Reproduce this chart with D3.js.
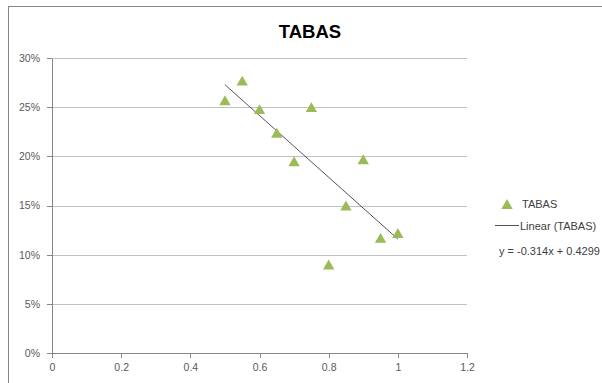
<!DOCTYPE html>
<meta charset="utf-8">
<style>
  body { margin: 0; background: white; }
  text { font-family: "Liberation Sans", Arial, sans-serif; }
  .tick text { fill: #595959; font-size: 10.5px; }
  .axis path, .axis line { stroke: #868686; shape-rendering: crispEdges; }
  .grid line { stroke: #c0c0c0; shape-rendering: crispEdges; }
  .grid path { stroke-width: 0; }
  .legend text { fill: #404040; font-size: 11px; }
</style>
<body>
<script src="https://d3js.org/d3.v7.min.js"></script>
<script>
// data
var xValues = [0.5, 0.55, 0.6, 0.65, 0.7, 0.75, 0.8, 0.85, 0.9, 0.95, 1.0];
var yValues = [0.257, 0.277, 0.248, 0.224, 0.195, 0.25, 0.090, 0.150, 0.197, 0.117, 0.122];
var xTicks = [0, 0.2, 0.4, 0.6, 0.8, 1, 1.2];
var yTicks = [0, 0.05, 0.1, 0.15, 0.2, 0.25, 0.3];
var trendSlope = -0.314, trendIntercept = 0.4299;
var seriesName = "TABAS";

var W = 602, H = 383;
var x = d3.scaleLinear().domain([0, 1.2]).range([52, 467]);
var y = d3.scaleLinear().domain([0, 0.3]).range([353, 58]);

var svg = d3.select("body").append("svg")
    .attr("width", W)
    .attr("height", H);

// chart area border (runs off right/bottom)
svg.append("rect")
    .attr("x", 8.5).attr("y", 6.5)
    .attr("width", 700).attr("height", 500)
    .attr("fill", "white")
    .attr("stroke", "#868686");

// title
svg.append("text")
    .attr("x", 310).attr("y", 38)
    .attr("text-anchor", "middle")
    .style("font-size", "18.5px")
    .style("font-weight", "bold")
    .text(seriesName);

// horizontal gridlines
svg.append("g")
    .attr("class", "grid")
    .attr("transform", "translate(52,0)")
    .call(d3.axisLeft(y).tickValues(yTicks.slice(1)).tickSize(-(467 - 52)).tickFormat(""));

// y axis
svg.append("g")
    .attr("class", "axis")
    .attr("transform", "translate(52,0)")
    .call(d3.axisLeft(y).tickValues(yTicks).tickSize(5).tickSizeOuter(0).tickPadding(7)
      .tickFormat(d3.format(".0%")));

// x axis
svg.append("g")
    .attr("class", "axis")
    .attr("transform", "translate(0,353)")
    .call(d3.axisBottom(x).tickValues(xTicks).tickSize(5).tickSizeOuter(0).tickPadding(6)
      .tickFormat(function(d) { return String(d); }));

svg.selectAll(".tick text").style("font-size", "10.5px").style("fill", "#595959");

// trendline
var x0 = d3.min(xValues), x1 = d3.max(xValues);
svg.append("line")
    .attr("x1", x(x0)).attr("y1", y(trendSlope * x0 + trendIntercept))
    .attr("x2", x(x1)).attr("y2", y(trendSlope * x1 + trendIntercept))
    .attr("stroke", "#555")
    .attr("stroke-width", 1);

// markers
var tri = d3.symbol().type(d3.symbolTriangle).size(56);
var triOffset = Math.sqrt(56 / (Math.sqrt(3) * 3)) / 2; // centre the box, not the centroid
svg.selectAll(".dot")
    .data(d3.zip(xValues, yValues))
  .enter().append("path")
    .attr("class", "dot")
    .attr("d", tri)
    .attr("fill", "#9bbb59")
    .attr("transform", function(d) {
      return "translate(" + x(d[0]) + "," + (y(d[1]) + triOffset) + ")";
    });

// legend
var lg = svg.append("g").attr("class", "legend");
lg.append("path")
    .attr("d", tri)
    .attr("fill", "#9bbb59")
    .attr("transform", "translate(507," + (204 + triOffset) + ")");
lg.append("text").attr("x", 522).attr("y", 208).text(seriesName);
lg.append("line")
    .attr("x1", 495).attr("x2", 519)
    .attr("y1", 225.5).attr("y2", 225.5)
    .attr("stroke", "#555");
lg.append("text").attr("x", 520).attr("y", 229.5).text("Linear (" + seriesName + ")");
lg.append("text").attr("x", 499).attr("y", 254.5)
    .text("y = " + trendSlope + "x + " + trendIntercept);
</script>
</body>
